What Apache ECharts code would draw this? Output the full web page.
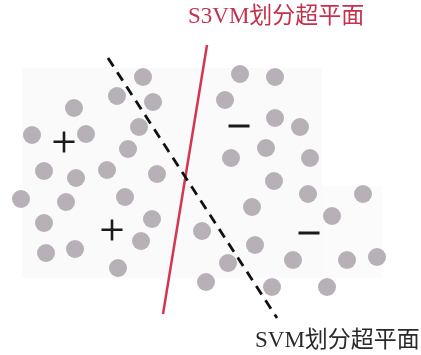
<!DOCTYPE html>
<html>
<head>
<meta charset="utf-8">
<script src="https://cdn.jsdelivr.net/npm/echarts@6/dist/echarts.min.js"></script>
<style>
  html, body { margin: 0; padding: 0; background: #fff; }
  #chart { width: 421px; height: 355px; }
</style>
</head>
<body>
<div id="chart"></div>
<script>
// 样本点 (x, y)，y 向下
const positivePoints = [
  [143, 77], [117, 96], [153, 102], [74, 108], [139, 127], [32, 135], [86, 134],
  [128, 149], [44, 171], [76, 178], [107, 170], [157, 174], [21, 199], [66, 202],
  [125, 197], [44, 223], [152, 219], [46, 253], [75, 249], [141, 241], [118, 268]
];
const negativePoints = [
  [240, 74], [275, 77], [225, 100], [275, 118], [300, 127], [266, 148], [231, 158],
  [310, 158], [274, 181], [308, 194], [363, 194], [252, 207], [332, 216], [202, 231],
  [255, 245], [228, 263], [293, 260], [347, 260], [377, 257], [206, 282], [272, 287],
  [327, 287]
];
const plusMarks = [[64, 142], [112, 230]];
const minusMarks = [[239, 126], [309, 233]];
// 超平面端点
const s3vmLine = [[207, 45], [163, 314]];
const svmLine = [[108, 58], [277, 318]];
const s3vmLabel = 'S3VM划分超平面';
const svmLabel = 'SVM划分超平面';

const chart = echarts.init(document.getElementById('chart'));

const dotStyle = { color: '#b7b1b7', opacity: 1 };
const labelFont = '23px "Liberation Serif", "Noto Sans CJK SC", serif';

chart.setOption({
  animation: false,
  backgroundColor: '#fff',
  grid: { left: 0, right: 0, top: 0, bottom: 0 },
  xAxis: { type: 'value', min: 0, max: 421, show: false },
  yAxis: { type: 'value', min: 0, max: 355, inverse: true, show: false },
  graphic: [
    { type: 'rect', shape: { x: 22, y: 68, width: 300, height: 210 }, style: { fill: '#fafafa' }, z: -10 },
    { type: 'rect', shape: { x: 322, y: 186, width: 60, height: 92 }, style: { fill: '#fbfbfb' }, z: -10 },
    {
      type: 'text', left: 188, top: 5,
      style: { text: s3vmLabel, font: labelFont, fill: '#c5304b' }
    },
    {
      type: 'text', left: 255, top: 329,
      style: { text: svmLabel, font: labelFont, fill: '#2a2a2a' }
    }
  ],
  series: [
    {
      type: 'scatter', data: positivePoints, symbolSize: 18,
      itemStyle: dotStyle, silent: true
    },
    {
      type: 'scatter', data: negativePoints, symbolSize: 18,
      itemStyle: dotStyle, silent: true
    },
    {
      type: 'line', data: s3vmLine, symbol: 'none', z: 3,
      lineStyle: { color: '#d2374f', width: 2.5 }
    },
    {
      type: 'line', data: svmLine, symbol: 'none', z: 3,
      lineStyle: { color: '#111', width: 2.8, type: [10, 7] }
    },
    {
      type: 'scatter', data: plusMarks, z: 4,
      symbol: 'path://M0,9h21v2.6h-21z M9.2,0h2.6v21h-2.6z', symbolSize: 21,
      symbolKeepAspect: true,
      itemStyle: { color: '#1a1a1a', opacity: 1 }
    },
    {
      type: 'scatter', data: minusMarks, z: 4,
      symbol: 'rect', symbolSize: [21, 3],
      itemStyle: { color: '#1a1a1a', opacity: 1 }
    }
  ]
});

window.addEventListener('resize', () => {
  chart.resize();
});
</script>
</body>
</html>
